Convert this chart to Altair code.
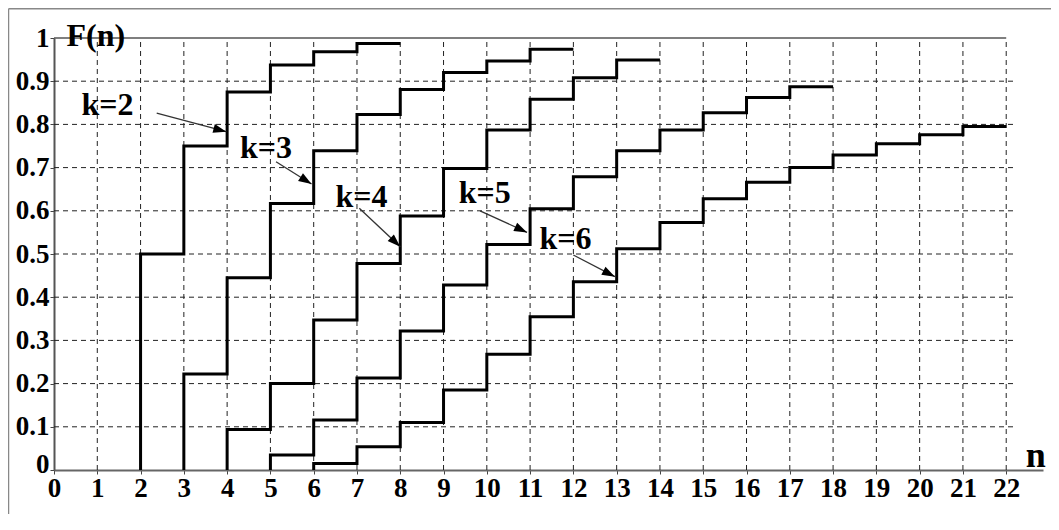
import math
import altair as alt
import pandas as pd

# ---------------- data ----------------
N_TICKS = list(range(0, 23))
F_TICKS = [0.0, 0.1, 0.2, 0.3, 0.4, 0.5, 0.6, 0.7, 0.8, 0.9, 1.0]
GRID_N = list(range(1, 23))
GRID_F = [0.1, 0.2, 0.3, 0.4, 0.5, 0.6, 0.7, 0.8, 0.9]

K_VALUES = [2, 3, 4, 5, 6]
K_END = [8, 12, 14, 18, 22]
F_K2 = [0.5, 0.75, 0.875, 0.9375, 0.968, 0.987]
F_K3 = [0.222, 0.445, 0.617, 0.739, 0.823, 0.881, 0.920, 0.947, 0.974]
F_K4 = [0.094, 0.200, 0.347, 0.478, 0.588, 0.698, 0.787, 0.858, 0.908, 0.949]
F_K5 = [0.035, 0.116, 0.213, 0.322, 0.428, 0.522, 0.605, 0.679, 0.739,
        0.787, 0.827, 0.862, 0.887]
F_K6 = [0.015, 0.054, 0.110, 0.185, 0.268, 0.355, 0.436, 0.512, 0.573,
        0.628, 0.666, 0.700, 0.729, 0.755, 0.776, 0.795]

ANN_LABELS = ["k=2", "k=3", "k=4", "k=5", "k=6"]
ANN_N = [1.236, 4.896, 7.105, 9.951, 11.818]
ANN_F = [0.822, 0.7215, 0.6095, 0.6174, 0.5109]
ARROW_N0 = [2.373, 5.130, 7.054, 9.843, 11.998]
ARROW_F0 = [0.826, 0.7137, 0.6058, 0.600, 0.4977]
ARROW_N1 = [3.98, 5.95, 8.0, 10.93, 12.96]
ARROW_F1 = [0.783, 0.662, 0.517, 0.550, 0.4475]

# ---------------- layout ----------------
W, H = 989, 432
X_MAX = 22.85
GRID_X_END = 22.17
FONT = "Liberation Serif"

xs = alt.Scale(domain=[0, X_MAX], nice=False, zero=False)
ys = alt.Scale(domain=[0, 1], nice=False, zero=False)

# step curves
rows = []
for k, end, vals in zip(K_VALUES, K_END, [F_K2, F_K3, F_K4, F_K5, F_K6]):
    i = 0
    rows.append({"k": k, "n": k, "F": 0.0, "i": i})
    for j, v in enumerate(vals):
        i += 1
        rows.append({"k": k, "n": k + j, "F": v, "i": i})
    i += 1
    rows.append({"k": k, "n": end, "F": vals[-1], "i": i})
curves_df = pd.DataFrame(rows)

vgrid_df = pd.DataFrame({"n": GRID_N, "f0": [0.0] * len(GRID_N), "f1": [1.0] * len(GRID_N)})
hgrid_df = pd.DataFrame({"F": GRID_F, "n0": [0.0] * len(GRID_F), "n1": [GRID_X_END] * len(GRID_F)})
top_df = pd.DataFrame({"F": [1.0], "n0": [0.0], "n1": [22.0]})

ann_df = pd.DataFrame({"label": ANN_LABELS, "n": ANN_N, "F": ANN_F})
px_per_n = W / X_MAX
angles = []
for a, b, c, d in zip(ARROW_N0, ARROW_F0, ARROW_N1, ARROW_F1):
    dx = (c - a) * px_per_n
    dy = -(d - b) * H
    angles.append(math.degrees(math.atan2(dy, dx)) % 360)
arrow_df = pd.DataFrame({"n0": ARROW_N0, "F0": ARROW_F0, "n1": ARROW_N1,
                         "F1": ARROW_F1, "ang": angles})

x_axis = alt.Axis(values=N_TICKS, format="d", grid=False, domainColor="#666",
                  domainWidth=2, tickColor="#444", tickSize=4, tickWidth=1,
                  labelFont=FONT, labelFontWeight="bold", labelFontSize=27,
                  labelColor="black", labelPadding=1, title=None,
                  labelFlush=False, labelOverlap=False)
y_axis = alt.Axis(values=F_TICKS, format=".1~f", grid=False, domainColor="#555",
                  domainWidth=2, tickColor="#444", tickSize=4, tickWidth=1,
                  labelFont=FONT, labelFontWeight="bold", labelFontSize=27,
                  labelColor="black", labelPadding=1, title=None,
                  labelFlush=False, labelOverlap=False,
                  labelOffset={"condition": {"test": "datum.value === 0", "value": -6},
                               "value": 0})


def X(field):
    return alt.X(field, scale=xs, axis=x_axis, title=None)


def Y(field):
    return alt.Y(field, scale=ys, axis=y_axis, title=None)


vgrid = alt.Chart(vgrid_df).mark_rule(color="#222", strokeWidth=1, strokeDash=[5, 4]).encode(
    x=X("n:Q"), y=Y("f0:Q"), y2="f1:Q",
)
hgrid = alt.Chart(hgrid_df).mark_rule(color="#222", strokeWidth=1, strokeDash=[5, 4]).encode(
    x=X("n0:Q"), x2="n1:Q", y=Y("F:Q"),
)
topline = alt.Chart(top_df).mark_rule(color="#555", strokeWidth=1.5).encode(
    x=X("n0:Q"), x2="n1:Q", y=Y("F:Q"),
)
curves = alt.Chart(curves_df).mark_line(
    color="black", strokeWidth=3, interpolate="step-after", strokeJoin="miter"
).encode(
    x=X("n:Q"), y=Y("F:Q"), detail="k:N", order="i:Q",
)
arrows = alt.Chart(arrow_df).mark_rule(color="#333", strokeWidth=1.3).encode(
    x=X("n0:Q"), y=Y("F0:Q"), x2="n1:Q", y2="F1:Q",
)
heads = alt.Chart(arrow_df).mark_point(
    shape="M0,0L-2,-0.7L-2,0.7Z", filled=True, color="black", size=169, opacity=1
).encode(
    x=X("n1:Q"), y=Y("F1:Q"), angle=alt.Angle("ang:Q", scale=None),
)
labels = alt.Chart(ann_df).mark_text(
    font=FONT, fontWeight="bold", fontSize=32, align="center", baseline="alphabetic",
    color="black"
).encode(
    x=X("n:Q"), y=Y("F:Q"), text="label:N",
)
fn_title = alt.Chart(pd.DataFrame({"t": ["F(n)"], "n": [0.29], "F": [0.9815]})).mark_text(
    font=FONT, fontWeight="bold", fontSize=32, align="left", baseline="alphabetic",
    color="black"
).encode(
    x=X("n:Q"), y=Y("F:Q"), text="t:N",
)
n_title = alt.Chart(pd.DataFrame({"t": ["n"], "n": [22.68], "F": [0.007]})).mark_text(
    font=FONT, fontWeight="bold", fontSize=36, align="center", baseline="alphabetic",
    color="black"
).encode(
    x=X("n:Q"), y=Y("F:Q"), text="t:N",
)
frame_top = alt.Chart(pd.DataFrame({"a": [0]})).mark_rule(color="#888", strokeWidth=1.5).encode(
    x=alt.value(-45.5), x2=alt.value(1000), y=alt.value(-29.3)
)
frame_left = alt.Chart(pd.DataFrame({"a": [0]})).mark_rule(color="#888", strokeWidth=1.5).encode(
    x=alt.value(-45.5), y=alt.value(-29.3), y2=alt.value(480)
)

chart = alt.layer(
    vgrid, hgrid, topline, curves, arrows, heads, labels, fn_title, n_title,
    frame_top, frame_left
).properties(
    width=W, height=H,
    padding={"left": 46, "top": 30, "right": 8, "bottom": 44},
    autosize=alt.AutoSizeParams(type="none"),
    background="white",
).configure_view(stroke=None)

chart.save("out.html", embed_options={"renderer": "svg", "actions": False})
